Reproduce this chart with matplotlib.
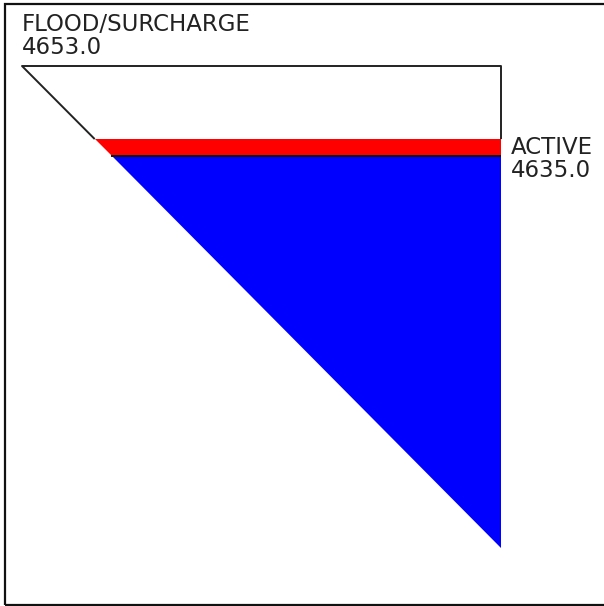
import matplotlib
matplotlib.use("Agg")
import matplotlib.pyplot as plt
from matplotlib.patches import Polygon, Rectangle

# reservoir levels (elevation, ft)
level_names = ["FLOOD/SURCHARGE", "ACTIVE"]
level_elevs = [4653.0, 4635.0]
current_elev = 4638.4
bottom_elev = 4556.8

top_elev = level_elevs[0]
active_elev = level_elevs[1]


def left_x(e):
    # left edge of the triangular profile at elevation e
    return 1 - (e - bottom_elev) / (top_elev - bottom_elev)


W, H = 604, 606
fig = plt.figure(figsize=(W / 100, H / 100), dpi=100)
fig.patch.set_facecolor("white")

# outer frame
fig.patches.append(Rectangle((4.5 / W, 1.5 / H), 1.2, 601 / H, transform=fig.transFigure,
                             fill=False, edgecolor="#111111", linewidth=1.6))

ax = fig.add_axes([22 / W, (H - 547.5) / H, 479 / W, 481.5 / H])
ax.set_xlim(0, 1)
ax.set_ylim(bottom_elev, top_elev)
ax.axis("off")

# outline of the pool
ax.plot([left_x(current_elev), 0, 1, 1], [current_elev, top_elev, top_elev, current_elev],
        color="#222222", linewidth=1.4, solid_capstyle="butt", clip_on=False)

# water above active pool
ax.add_patch(Polygon([(left_x(current_elev), current_elev), (1, current_elev),
                      (1, active_elev), (left_x(active_elev), active_elev)],
                     closed=True, facecolor="#ff0000", edgecolor="none"))
# active storage
ax.add_patch(Polygon([(left_x(active_elev), active_elev), (1, active_elev), (1, bottom_elev)],
                     closed=True, facecolor="#0000ff", edgecolor="none"))
ax.plot([left_x(active_elev), 1], [active_elev, active_elev], color="#111111", linewidth=1.4)

ax.annotate("%s\n%.1f" % (level_names[0], level_elevs[0]), xy=(0, top_elev),
            xytext=(0, 7), textcoords="offset pixels", ha="left", va="bottom",
            fontsize=16.5, color="#222222", linespacing=1.0, annotation_clip=False)
ax.annotate("%s\n%.1f" % (level_names[1], level_elevs[1]), xy=(1, active_elev),
            xytext=(10, -3), textcoords="offset pixels", ha="left", va="center",
            fontsize=16.5, color="#222222", linespacing=1.0, annotation_clip=False)

fig.savefig("out.png", dpi=100)
